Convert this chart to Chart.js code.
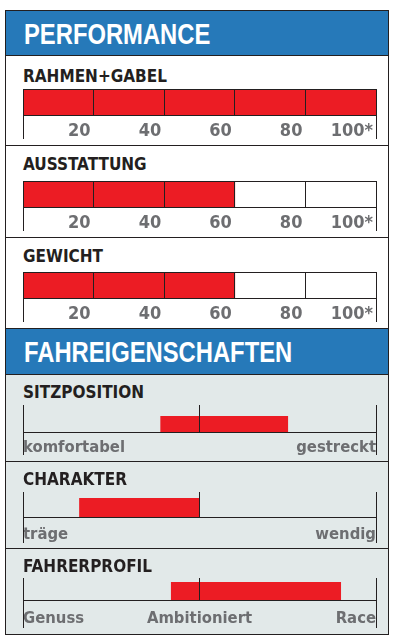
<!DOCTYPE html>
<html>
<head>
<meta charset="utf-8">
<script src="https://cdn.jsdelivr.net/npm/chart.js@4/dist/chart.umd.min.js"></script>
<style>
  html, body { margin: 0; padding: 0; }
  body { width: 396px; height: 642px; position: relative; overflow: hidden; background: #ffffff; }
  .abs { position: absolute; }
  .frame { left: 5px; top: 10px; width: 384px; height: 625px; box-sizing: border-box; border: 1px solid #231f20; z-index: 5; pointer-events: none; }
  .blue { left: 5px; width: 384px; background: #2679b9; }
  .gray { left: 5px; width: 384px; background: #e2e9e9; }
  .sep { left: 5px; width: 384px; height: 1px; background: #231f20; z-index: 4; }
  .head { left: 24px; font-family: "Liberation Sans", Arial, sans-serif; font-weight: bold; font-size: 29px; line-height: 29px; color: #ffffff; white-space: nowrap; z-index: 3; transform: scaleX(0.82); transform-origin: 0 0; }
  .title { left: 23px; font-family: "DejaVu Sans Condensed", "DejaVu Sans", sans-serif; font-weight: bold; font-size: 17px; line-height: 17px; color: #231f20; white-space: nowrap; z-index: 3; }
  canvas.c { position: absolute; left: 0; z-index: 2; }
</style>
</head>
<body>
<script>
// ---- data ----
const sectionHeaders = ['PERFORMANCE', 'FAHREIGENSCHAFTEN'];
const perfCategories = ['RAHMEN+GABEL', 'AUSSTATTUNG', 'GEWICHT'];
const perfValues = [100, 60, 60];
const perfTickLabels = ['', '20', '40', '60', '80', '100*'];
const traitCategories = ['SITZPOSITION', 'CHARAKTER', 'FAHRERPROFIL'];
const traitRanges = [[39, 75], [16, 50], [42, 90]];
const traitTickLabels = [
  ['komfortabel', '', 'gestreckt'],
  ['träge', '', 'wendig'],
  ['Genuss', 'Ambitioniert', 'Race']
];

// ---- layout (styles only) ----
const DARK = '#231f20', RED = '#ec1c24', GREY_TXT = '#6d6e71';
const perfLayout = [
  { titleBase: 82, trackTop: 89 },
  { titleBase: 170.7, trackTop: 181 },
  { titleBase: 262.7, trackTop: 272 }
];
const traitLayout = [
  { titleBase: 398.3, T: 405, R: 416, B: 432, E: 455, pad: -17 },
  { titleBase: 485.7, T: 492, R: 498, B: 517, E: 543, pad: -18 },
  { titleBase: 572.7, T: 578, R: 582, B: 600, E: 628, pad: -19 }
];

function el(cls, styles, text) {
  const d = document.createElement('div');
  d.className = 'abs ' + cls;
  Object.assign(d.style, styles);
  if (text !== undefined) d.textContent = text;
  document.body.appendChild(d);
  return d;
}

// backgrounds and frame
el('blue', { top: '10px', height: '45px' });
el('blue', { top: '328px', height: '46px' });
el('gray', { top: '374px', height: '261px' });
[55, 145, 237, 328, 374, 461, 548].forEach(y => el('sep', { top: y + 'px' }));
el('frame', {});
el('head', { top: (44 - 24.5) + 'px' }, sectionHeaders[0]);
el('head', { top: (362.7 - 24.5) + 'px' }, sectionHeaders[1]);

function makeCanvas(top, height) {
  const c = document.createElement('canvas');
  c.className = 'c';
  c.width = 396; c.height = height;
  c.style.width = '396px'; c.style.height = height + 'px';
  c.style.top = top + 'px';
  document.body.appendChild(c);
  return c;
}

const tickFontPerf = { family: '"DejaVu Sans Condensed", "DejaVu Sans", sans-serif', weight: 'bold', size: 18 };
const tickFontTrait = { family: '"DejaVu Sans Condensed", "DejaVu Sans", sans-serif', weight: 'bold', size: 16.5 };

// performance charts
perfCategories.forEach((cat, i) => {
  const L = perfLayout[i];
  el('title', { top: (L.titleBase - 14.4) + 'px' }, cat);
  const trackH = 26, tickLen = 24, axisH = 34;
  const canvas = makeCanvas(L.trackTop - 1, 1 + trackH + axisH);
  new Chart(canvas, {
    type: 'bar',
    data: {
      labels: [cat],
      datasets: [{ data: [perfValues[i]], backgroundColor: RED, borderWidth: 0, barPercentage: 1, categoryPercentage: 1 }]
    },
    options: {
      indexAxis: 'y', responsive: false, animation: false, devicePixelRatio: 1,
      layout: { padding: { left: 23, right: 20, top: 1, bottom: 0 } },
      plugins: { legend: { display: false }, tooltip: { enabled: false } },
      scales: {
        y: { type: 'category', display: false },
        x: {
          type: 'linear', position: 'bottom', min: 0, max: 100,
          afterFit: s => { s.height = axisH; },
          ticks: { stepSize: 20, autoSkip: false, maxRotation: 0, align: 'end', padding: -18, labelOffset: -3,
                   color: GREY_TXT, font: tickFontPerf,
                   callback: (v, idx) => perfTickLabels[idx] },
          grid: { z: 1, color: DARK, lineWidth: 1, drawTicks: true, tickLength: tickLen,
                  tickColor: ctx => (ctx.tick && (ctx.tick.value === 0 || ctx.tick.value === 100)) ? DARK : 'rgba(0,0,0,0)' },
          border: { display: true, color: DARK, width: 1, z: 1 }
        },
        x2: {
          type: 'linear', position: 'top', axis: 'x', min: 0, max: 100,
          afterFit: s => { s.height = 0; },
          ticks: { display: false, stepSize: 20 },
          grid: { display: false, drawOnChartArea: false, drawTicks: false },
          border: { display: true, color: DARK, width: 1, z: 1 }
        }
      }
    }
  });
});

// trait charts
traitCategories.forEach((cat, i) => {
  const L = traitLayout[i];
  el('title', { top: (L.titleBase - 14.4) + 'px' }, cat);
  const topTick = L.R - L.T, areaH = L.B - L.R, botTick = L.E - L.B, axisH = 40;
  const canvas = makeCanvas(L.T - 1, 1 + topTick + areaH + axisH);
  const labels = traitTickLabels[i];
  new Chart(canvas, {
    type: 'bar',
    data: {
      labels: [cat],
      datasets: [{ data: [traitRanges[i]], backgroundColor: RED, borderWidth: 0, borderSkipped: false, barPercentage: 1, categoryPercentage: 1 }]
    },
    options: {
      indexAxis: 'y', responsive: false, animation: false, devicePixelRatio: 1,
      layout: { padding: { left: 23, right: 20, top: 1, bottom: 0 } },
      plugins: { legend: { display: false }, tooltip: { enabled: false } },
      scales: {
        y: { type: 'category', display: false },
        x: {
          type: 'linear', position: 'bottom', min: 0, max: 100,
          afterFit: s => { s.height = axisH; },
          ticks: { stepSize: 50, autoSkip: false, maxRotation: 0, align: 'inner', padding: L.pad,
                   color: GREY_TXT, font: tickFontTrait,
                   callback: (v, idx) => labels[idx] },
          grid: { z: 1, color: DARK, lineWidth: 1, drawTicks: true, tickLength: botTick,
                  tickColor: ctx => (ctx.tick && (ctx.tick.value === 0 || ctx.tick.value === 100)) ? DARK : 'rgba(0,0,0,0)' },
          border: { display: true, color: DARK, width: 1, z: 1 }
        },
        x2: {
          type: 'linear', position: 'top', axis: 'x', min: 0, max: 100,
          afterFit: s => { s.height = topTick; },
          ticks: { display: false, stepSize: 50 },
          grid: { z: 1, drawOnChartArea: false, drawTicks: true, tickLength: topTick, color: DARK, tickColor: DARK },
          border: { display: false }
        }
      }
    }
  });
});
</script>
</body>
</html>
